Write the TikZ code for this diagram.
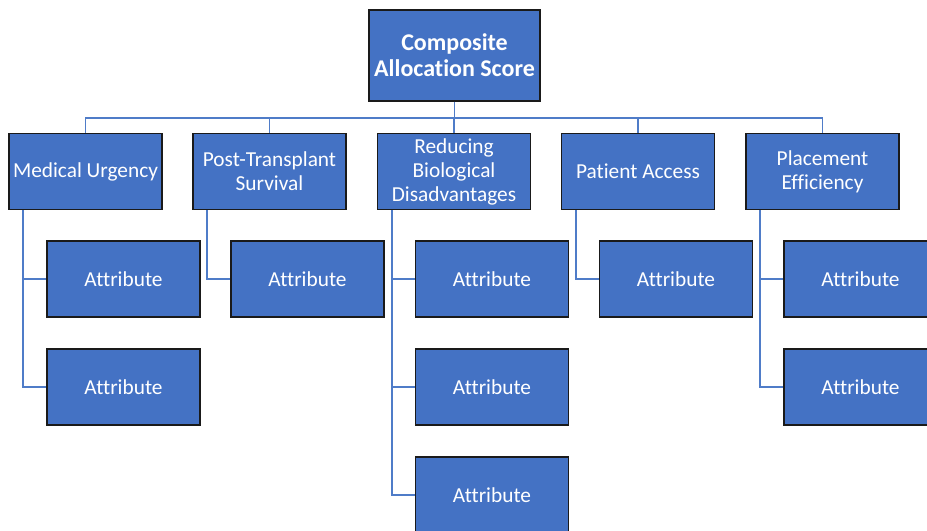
\documentclass[tikz,border=0pt]{standalone}
\usepackage{fontspec}
\setmainfont{Carlito}[Ligatures=NoCommon]
\definecolor{boxblue}{HTML}{4472C4}
\definecolor{linkblue}{HTML}{4F7CC8}
\definecolor{boxedge}{HTML}{1A1A1A}
\begin{document}
\begin{tikzpicture}[x=0.75pt,y=-0.75pt,
  box/.style={draw=boxedge, line width=1.1pt, fill=boxblue, text=white,
    align=center, inner sep=0pt, minimum width=114.75pt, minimum height=57pt,
    font=\fontsize{16}{18}\selectfont},
  headbox/.style={box, minimum width=128.25pt, minimum height=68.25pt,
    font=\fontsize{18}{19.5}\selectfont\bfseries},
  link/.style={draw=linkblue, line width=1.2pt}]
\useasboundingbox (0,0) rectangle (927,531);
\clip (0,0) rectangle (927,531);

% root
\node[headbox] (root) at (454.5,55.5) {Composite\\Allocation Score};

% criteria
\node[box] (mu) at (85.5,171.5) {Medical Urgency};
\node[box] (pt) at (269.5,171.5) {Post-Transplant\\Survival};
\node[box] (rb) at (454,171.5) {Reducing\\Biological\\Disadvantages};
\node[box] (pa) at (638,171.5) {Patient Access};
\node[box] (pe) at (822.5,171.5) {Placement\\Efficiency};

% attributes
\node[box] (mu1) at (123.5,279) {Attribute};
\node[box] (mu2) at (123.5,387) {Attribute};
\node[box] (pt1) at (307.5,279) {Attribute};
\node[box] (rb1) at (492,279) {Attribute};
\node[box] (rb2) at (492,387) {Attribute};
\node[box] (rb3) at (492,495) {Attribute};
\node[box] (pa1) at (676,279) {Attribute};
\node[box] (pe1) at (860.5,279) {Attribute};
\node[box] (pe2) at (860.5,387) {Attribute};

% root to criteria
\coordinate (bus) at (454.5,118);
\draw[link] (root.south) -- (bus);
\foreach \c in {mu,pt,rb,pa,pe}
  \draw[link] (\c.north) |- (bus);

% criteria to attributes
\foreach \p/\a in {mu/mu1,mu/mu2,pt/pt1,rb/rb1,rb/rb2,rb/rb3,pa/pa1,pe/pe1,pe/pe2}
  \draw[link] ([xshift=11.25pt]\p.south west) |- (\a.west);
\end{tikzpicture}
\end{document}
